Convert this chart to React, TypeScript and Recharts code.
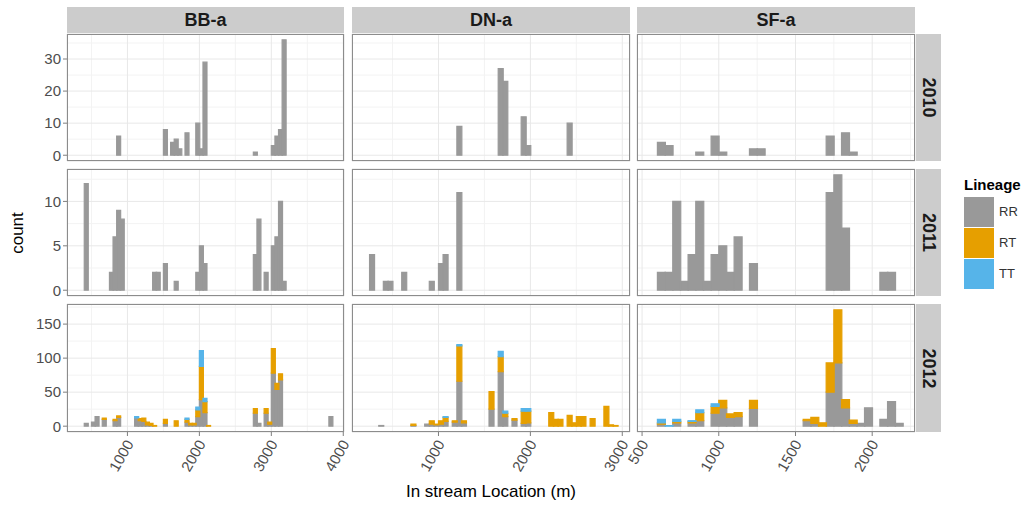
import React from "react";
import { BarChart, Bar, XAxis, YAxis, CartesianGrid } from "recharts";

const FONT = "'Liberation Sans', Arial, Helvetica, sans-serif";

const sites = ["BB-a", "DN-a", "SF-a"];
const years = ["2010", "2011", "2012"];
const lineages = ["RR", "RT", "TT"];
const lineageColors = ["#999999", "#E69F00", "#56B4E9"];

// 50 m bins: bin centre (m) and counts per lineage
const bb2010Bins = [875, 1525, 1625, 1675, 1725, 1825, 1975, 2025, 2075, 2775, 3025, 3075, 3125, 3175];
const bb2010RR = [6, 8, 4, 5, 2, 7, 10, 2, 29, 1, 3, 6, 8, 36];

const bb2011Bins = [425, 775, 825, 875, 925, 1375, 1425, 1525, 1675, 1975, 2025, 2075, 2775, 2825, 2925, 3025, 3075, 3125, 3175];
const bb2011RR = [12, 2, 6, 9, 8, 2, 2, 3, 1, 2, 5, 3, 4, 8, 2, 5, 6, 10, 1];

const bb2012Bins = [425, 525, 575, 675, 825, 875, 1125, 1175, 1225, 1275, 1325, 1375, 1525, 1675, 1825, 1875, 1925, 1975, 2025, 2075, 2125, 2775, 2825, 2925, 2975, 3025, 3075, 3125, 3825];
const bb2012RR = [4, 6, 14, 10, 8, 13, 12, 8, 7, 2, 1, 0, 4, 0, 6, 2, 2, 14, 39, 20, 0, 19, 4, 19, 3, 78, 54, 68, 14];
const bb2012RT = [0, 0, 0, 2, 2, 2, 0, 3, 5, 4, 3, 1, 6, 8, 4, 2, 2, 10, 49, 16, 1, 7, 0, 7, 3, 36, 9, 9, 0];
const bb2012TT = [0, 0, 0, 0, 0, 0, 2, 0, 0, 0, 0, 0, 0, 0, 2, 0, 0, 4, 23, 5, 0, 0, 0, 0, 0, 0, 0, 0, 0];

const dn2010Bins = [1225, 1675, 1725, 1925, 1975, 2425];
const dn2010RR = [9, 27, 23, 12, 3, 10];

const dn2011Bins = [275, 425, 475, 625, 925, 1025, 1075, 1225];
const dn2011RR = [4, 1, 1, 2, 1, 3, 4, 11];

const dn2012Bins = [375, 725, 875, 925, 975, 1025, 1075, 1175, 1225, 1275, 1575, 1675, 1725, 1825, 1925, 1975, 2225, 2275, 2325, 2425, 2475, 2525, 2575, 2675, 2825, 2875, 2925];
const dn2012RR = [1, 1, 3, 3, 2, 3, 7, 6, 66, 5, 25, 80, 14, 9, 4, 5, 0, 0, 0, 0, 0, 0, 0, 0, 0, 0, 0];
const dn2012RT = [0, 2, 0, 5, 1, 5, 6, 2, 52, 3, 26, 22, 5, 2, 18, 17, 20, 10, 10, 16, 5, 14, 14, 11, 29, 2, 1];
const dn2012TT = [0, 0, 0, 0, 0, 0, 1, 0, 2, 0, 0, 8, 3, 0, 4, 4, 0, 0, 0, 0, 0, 0, 0, 0, 0, 0, 0];

const sf2010Bins = [625, 675, 875, 975, 1025, 1225, 1275, 1725, 1825, 1875];
const sf2010RR = [4, 3, 1, 6, 1, 2, 2, 6, 7, 1];

const sf2011Bins = [625, 675, 725, 775, 825, 875, 925, 975, 1025, 1075, 1125, 1225, 1725, 1775, 1825, 2075, 2125];
const sf2011RR = [2, 2, 10, 1, 4, 10, 1, 4, 5, 2, 6, 3, 11, 13, 7, 2, 2];

const sf2012Bins = [625, 675, 725, 825, 875, 975, 1025, 1075, 1125, 1225, 1575, 1625, 1675, 1725, 1775, 1825, 1875, 1925, 1975, 2075, 2125, 2175];
const sf2012RR = [3, 0, 5, 5, 8, 19, 27, 13, 14, 26, 8, 4, 0, 50, 93, 27, 4, 4, 27, 10, 36, 4];
const sf2012RT = [2, 0, 2, 2, 12, 10, 11, 5, 6, 12, 2, 9, 5, 43, 78, 12, 5, 0, 0, 0, 0, 0];
const sf2012TT = [5, 1, 3, 1, 4, 4, 0, 0, 0, 0, 0, 0, 0, 0, 0, 0, 0, 0, 0, 0, 0, 0];

// scales: free x per site, free y per year
const siteDomains = [[160, 4010], [59, 3084], [467, 2279]];
const siteMajor = [[1000, 2000, 3000, 4000], [1000, 2000, 3000], [500, 1000, 1500, 2000]];
const siteMinor = [[500, 1500, 2500, 3500], [500, 1500, 2500], [750, 1250, 1750, 2250]];
const yearDomains = [[-1.8, 37.8], [-0.65, 13.65], [-8.55, 179.55]];
const yearMajor = [[0, 10, 20, 30], [0, 5, 10], [0, 50, 100, 150]];
const yearMinor = [[5, 15, 25, 35], [2.5, 7.5, 12.5], [25, 75, 125, 175]];

type Row = { x: number; RR: number; RT: number; TT: number };

const makeRows = (bins: number[], rr: number[], rt?: number[], tt?: number[]): Row[] =>
  bins.map((x, i) => ({ x, RR: rr[i], RT: rt ? rt[i] : 0, TT: tt ? tt[i] : 0 }));

// panels[year][site]
const panels: Row[][][] = [
  [makeRows(bb2010Bins, bb2010RR), makeRows(dn2010Bins, dn2010RR), makeRows(sf2010Bins, sf2010RR)],
  [makeRows(bb2011Bins, bb2011RR), makeRows(dn2011Bins, dn2011RR), makeRows(sf2011Bins, sf2011RR)],
  [
    makeRows(bb2012Bins, bb2012RR, bb2012RT, bb2012TT),
    makeRows(dn2012Bins, dn2012RR, dn2012RT, dn2012TT),
    makeRows(sf2012Bins, sf2012RR, sf2012RT, sf2012TT),
  ],
];

const colX = [67, 352, 637];
const colW = [277, 278, 278];
const rowY = [34, 169, 304];
const rowH = [127, 127, 128];

const AngledTick = (props: any) => {
  const { x, y, payload } = props;
  return (
    <text
      transform={`translate(${x + 2},${y + 3}) rotate(-60)`}
      textAnchor="end"
      dominantBaseline="central"
      fill="#4D4D4D"
      fontSize={15}
      fontFamily={FONT}
    >
      {payload.value}
    </text>
  );
};

const Panel = ({ r, c }: { r: number; c: number }) => {
  const showY = c === 0;
  const showX = r === 2;
  const yw = showY ? 45 : 0;
  const xh = showX ? 50 : 0;
  const w = colW[c];
  const h = rowH[r];
  return (
    <div style={{ position: "absolute", left: colX[c] - yw, top: rowY[r] }}>
      <BarChart
        width={w + yw}
        height={h + xh}
        data={panels[r][c]}
        margin={{ top: 0, right: 0, bottom: 0, left: 0 }}
        barCategoryGap={0}
        barGap={0}
      >
        <XAxis xAxisId="minor" type="number" dataKey="x" domain={siteDomains[c]} ticks={siteMinor[c]} allowDataOverflow hide />
        <YAxis yAxisId="minor" type="number" domain={yearDomains[r]} ticks={yearMinor[r]} allowDataOverflow hide />
        <XAxis
          xAxisId="major"
          type="number"
          dataKey="x"
          domain={siteDomains[c]}
          ticks={siteMajor[c]}
          allowDataOverflow
          hide={!showX}
          height={xh}
          axisLine={false}
          tickSize={4}
          tickLine={{ stroke: "#7F7F7F" }}
          tick={<AngledTick />}
          interval={0}
        />
        <YAxis
          yAxisId="major"
          type="number"
          domain={yearDomains[r]}
          ticks={yearMajor[r]}
          allowDataOverflow
          hide={!showY}
          width={yw}
          axisLine={false}
          tickSize={4}
          tickMargin={2}
          tickLine={{ stroke: "#7F7F7F" }}
          tick={{ fill: "#4D4D4D", fontSize: 15, fontFamily: FONT }}
          interval={0}
        />
        <CartesianGrid xAxisId="minor" yAxisId="minor" stroke="#F3F3F3" />
        <CartesianGrid xAxisId="major" yAxisId="major" stroke="#E8E8E8" />
        {lineages.map((k, i) => (
          <Bar
            key={k}
            xAxisId="major"
            yAxisId="major"
            dataKey={k}
            stackId="n"
            fill={lineageColors[i]}
            stroke={lineageColors[i]}
            strokeWidth={1.2}
            isAnimationActive={false}
          />
        ))}
      </BarChart>
      <div
        style={{
          position: "absolute",
          left: yw,
          top: 0,
          width: w,
          height: h,
          boxSizing: "border-box",
          border: "1px solid #8C8C8C",
          pointerEvents: "none",
        }}
      />
    </div>
  );
};

export default function App() {
  return (
    <div
      style={{
        position: "absolute",
        left: 0,
        top: 0,
        width: 1029,
        height: 508,
        background: "#fff",
        fontFamily: FONT,
        overflow: "hidden",
      }}
    >
      <style>{`.recharts-surface { overflow: visible; } .recharts-wrapper { overflow: visible; }`}</style>
      {sites.map((s, c) => (
        <div
          key={s}
          style={{
            position: "absolute",
            left: colX[c],
            top: 7,
            width: colW[c],
            height: 26,
            background: "#CCCCCC",
            display: "flex",
            alignItems: "center",
            justifyContent: "center",
            fontWeight: "bold",
            fontSize: 18,
            color: "#1A1A1A",
          }}
        >
          {s}
        </div>
      ))}
      {years.map((yr, r) => (
        <div
          key={yr}
          style={{
            position: "absolute",
            left: 916,
            top: rowY[r],
            width: 25,
            height: rowH[r],
            background: "#CCCCCC",
            display: "flex",
            alignItems: "center",
            justifyContent: "center",
          }}
        >
          <span style={{ transform: "rotate(90deg)", fontWeight: "bold", fontSize: 18, color: "#1A1A1A", whiteSpace: "nowrap" }}>
            {yr}
          </span>
        </div>
      ))}
      {years.map((_, r) => sites.map((__, c) => <Panel key={`${r}-${c}`} r={r} c={c} />))}
      <div
        style={{
          position: "absolute",
          left: 7,
          top: 222,
          width: 22,
          height: 22,
          display: "flex",
          alignItems: "center",
          justifyContent: "center",
        }}
      >
        <span style={{ transform: "rotate(-90deg)", fontSize: 17, color: "#000", whiteSpace: "nowrap" }}>count</span>
      </div>
      <div
        style={{
          position: "absolute",
          left: colX[0],
          top: 482,
          width: colX[2] + colW[2] - colX[0],
          textAlign: "center",
          fontSize: 17,
          color: "#000",
        }}
      >
        In stream Location (m)
      </div>
      <div style={{ position: "absolute", left: 964, top: 176, fontSize: 15, fontWeight: "bold", color: "#000" }}>Lineage</div>
      {lineages.map((k, i) => (
        <div key={k}>
          <div
            style={{
              position: "absolute",
              left: 964,
              top: 197 + i * 31,
              width: 30,
              height: 30,
              background: lineageColors[i],
            }}
          />
          <div
            style={{
              position: "absolute",
              left: 999,
              top: 197 + i * 31,
              height: 30,
              lineHeight: "30px",
              fontSize: 13,
              color: "#333",
            }}
          >
            {k}
          </div>
        </div>
      ))}
    </div>
  );
}
